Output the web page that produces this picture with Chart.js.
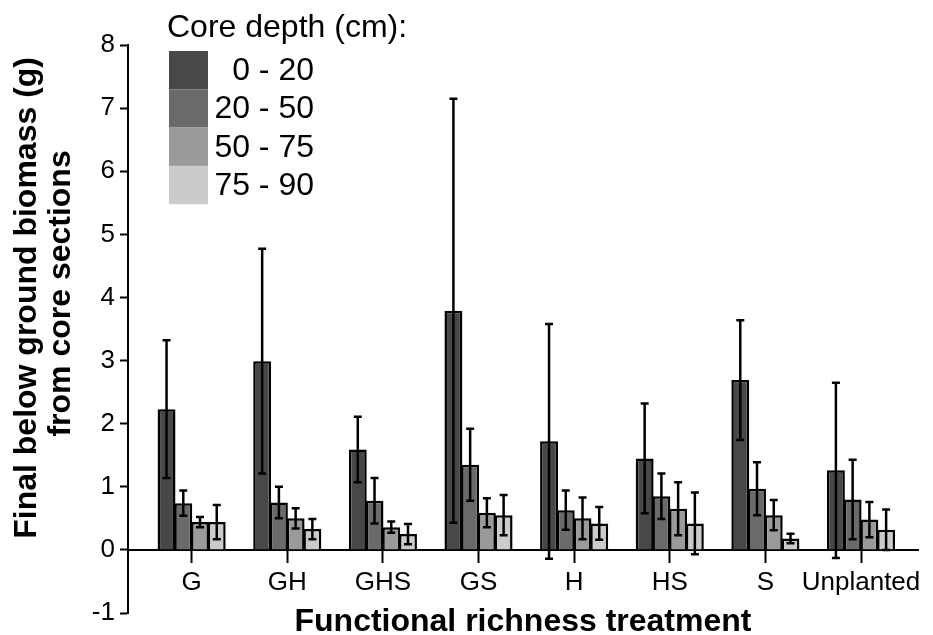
<!DOCTYPE html>
<html>
<head>
<meta charset="utf-8">
<script src="https://cdn.jsdelivr.net/npm/chart.js@4"></script>
<style>
  html, body { margin: 0; padding: 0; background: #ffffff; }
  #wrap { width: 933px; height: 635px; }
</style>
</head>
<body>
<div id="wrap"><canvas id="c" width="933" height="635"></canvas></div>
<script>
const categories = ['G', 'GH', 'GHS', 'GS', 'H', 'HS', 'S', 'Unplanted'];
const depthLabels = ['0 - 20', '20 - 50', '50 - 75', '75 - 90'];
const legendTitle = 'Core depth (cm):';
const yTitleLines = ['Final below ground biomass (g)', 'from core sections'];
const xTitle = 'Functional richness treatment';

const mean0_20  = [2.23, 2.99, 1.59, 3.79, 1.72, 1.45, 2.69, 1.26];
const mean20_50 = [0.74, 0.75, 0.78, 1.35, 0.63, 0.85, 0.97, 0.80];
const mean50_75 = [0.44, 0.50, 0.36, 0.59, 0.50, 0.65, 0.55, 0.48];
const mean75_90 = [0.44, 0.33, 0.25, 0.55, 0.42, 0.42, 0.18, 0.32];

const err0_20  = [1.09, 1.78, 0.52, 3.36, 1.86, 0.87, 0.95, 1.39];
const err20_50 = [0.20, 0.25, 0.36, 0.57, 0.31, 0.36, 0.42, 0.63];
const err50_75 = [0.08, 0.16, 0.09, 0.23, 0.33, 0.42, 0.24, 0.28];
const err75_90 = [0.27, 0.16, 0.16, 0.32, 0.26, 0.49, 0.075, 0.32];

const yTickValues = [-1, 0, 1, 2, 3, 4, 5, 6, 7, 8];

const seriesMeans = [mean0_20, mean20_50, mean50_75, mean75_90];
const seriesErrs = [err0_20, err20_50, err50_75, err75_90];
const seriesColors = ['#484848', '#6a6a6a', '#9a9a9a', '#cbcbcb'];

const datasets = seriesMeans.map((vals, k) => ({
  label: depthLabels[k],
  data: vals.map((v, i) => ({ x: i, y: v })),
  errors: seriesErrs[k],
  backgroundColor: seriesColors[k],
  borderColor: '#000000',
  borderWidth: 2.5,
  borderSkipped: 'bottom',
  categoryPercentage: 0.7,
  barPercentage: 1.07
}));

const errorBarPlugin = {
  id: 'errorBars',
  afterDatasetsDraw(chart) {
    const ctx = chart.ctx;
    const yScale = chart.scales.y;
    ctx.save();
    ctx.strokeStyle = '#000000';
    ctx.lineWidth = 2.5;
    chart.data.datasets.forEach((ds, di) => {
      const meta = chart.getDatasetMeta(di);
      meta.data.forEach((el, i) => {
        const v = ds.data[i].y;
        const e = ds.errors[i];
        const x = el.x;
        const yTop = yScale.getPixelForValue(v + e);
        const yBot = yScale.getPixelForValue(v - e);
        const cap = 4;
        ctx.beginPath();
        ctx.moveTo(x, yTop); ctx.lineTo(x, yBot);
        ctx.moveTo(x - cap, yTop); ctx.lineTo(x + cap, yTop);
        ctx.moveTo(x - cap, yBot); ctx.lineTo(x + cap, yBot);
        ctx.stroke();
      });
    });
    ctx.restore();
  }
};

const legendPlugin = {
  id: 'depthLegend',
  afterDraw(chart) {
    const ctx = chart.ctx;
    ctx.save();
    ctx.fillStyle = '#000000';
    ctx.font = '32px "Liberation Sans", Arial, sans-serif';
    ctx.textBaseline = 'alphabetic';
    ctx.textAlign = 'left';
    ctx.fillText(legendTitle, 167, 37);
    const boxX = 169, boxW = 39, boxTop = 51, boxH = 38.3;
    chart.data.datasets.forEach((ds, k) => {
      const y0 = boxTop + k * boxH;
      ctx.fillStyle = ds.backgroundColor;
      ctx.fillRect(boxX, y0, boxW, boxH);
      ctx.fillStyle = '#000000';
      ctx.textAlign = 'right';
      ctx.textBaseline = 'middle';
      ctx.fillText(ds.label, 314, y0 + boxH / 2 + 1);
    });
    ctx.restore();
  }
};

new Chart(document.getElementById('c'), {
  type: 'bar',
  data: { datasets },
  options: {
    responsive: false,
    animation: false,
    layout: { padding: { left: 10, top: 45, right: 15, bottom: 22 } },
    plugins: { legend: { display: false }, tooltip: { enabled: false } },
    scales: {
      x: {
        type: 'linear',
        position: { y: 0 },
        min: -0.666,
        max: 7.596,
        offset: false,
        z: 1,
        afterBuildTicks(scale) {
          scale.ticks = categories.map((c, i) => ({ value: i }));
        },
        ticks: {
          autoSkip: false,
          maxRotation: 0,
          minRotation: 0,
          padding: 5,
          color: '#000000',
          font: { family: '"Liberation Sans", Arial, sans-serif', size: 26 },
          callback: (v) => categories[v]
        },
        grid: { display: true, drawOnChartArea: false, drawTicks: true, offset: false,
                tickLength: 12, tickWidth: 2, tickColor: '#000000', color: '#000000' },
        border: { display: true, color: '#000000', width: 2 },
        title: {
          display: true,
          text: xTitle,
          color: '#000000',
          padding: { top: 0, bottom: -8 },
          font: { family: '"Liberation Sans", Arial, sans-serif', size: 32, weight: 'bold' }
        }
      },
      y: {
        type: 'linear',
        min: -1,
        max: 8,
        afterBuildTicks(scale) {
          scale.ticks = yTickValues.map(v => ({ value: v }));
        },
        ticks: {
          padding: 5,
          color: '#000000',
          font: { family: '"Liberation Sans", Arial, sans-serif', size: 26 }
        },
        grid: { display: true, drawOnChartArea: false, drawTicks: true,
                tickLength: 8, tickWidth: 2, tickColor: '#000000', color: '#000000' },
        border: { display: true, color: '#000000', width: 2 },
        title: {
          display: true,
          text: ['       ' + yTitleLines[0], '        ' + yTitleLines[1]],
          color: '#000000',
          padding: { top: 0, bottom: 9 },
          font: { family: '"Liberation Sans", Arial, sans-serif', size: 32, weight: 'bold', lineHeight: 1.06 }
        }
      }
    }
  },
  plugins: [errorBarPlugin, legendPlugin]
});
</script>
</body>
</html>
